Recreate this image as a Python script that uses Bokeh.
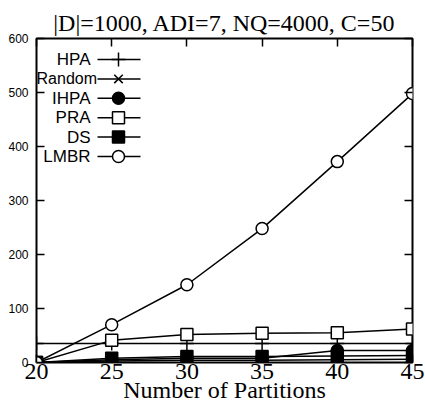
from bokeh.plotting import figure
from bokeh.models import Range1d, LinearAxis, FixedTicker, Label
from bokeh.embed import file_html
from bokeh.resources import INLINE

# ---- data ----
partitions = [20, 25, 30, 35, 40, 45]
hpa = [35, 35, 35, 35, 35, 35]
random_ = [0, 3, 4, 4, 5, 6]
ihpa = [0, 5, 8, 8, 22, 22]
pra = [0, 41, 52, 54, 55, 62]
ds = [0, 8, 11, 11, 12, 13]
lmbr = [0, 70, 144, 248, 372, 498]
series_names = ["HPA", "Random", "IHPA", "PRA", "DS", "LMBR"]
x_ticks = [20, 25, 30, 35, 40, 45]
y_ticks = [0, 100, 200, 300, 400, 500, 600]
title_text = "|D|=1000, ADI=7, NQ=4000, C=50"
x_label = "Number of Partitions"

SERIF = "Liberation Serif"
SANS = "Liberation Sans"
C = "black"

p = figure(width=425, height=407, output_backend="svg", toolbar_location=None,
           x_range=Range1d(20, 45), y_range=Range1d(0, 600),
           min_border_left=36, min_border_right=13, min_border_top=38, min_border_bottom=45)
p.background_fill_color = "white"
p.border_fill_color = "white"
p.grid.visible = False
p.outline_line_color = C
p.outline_line_width = 2

p.title.text = title_text
p.title.align = "center"
p.title.text_font = SERIF
p.title.text_font_size = "24px"
p.title.text_font_style = "normal"
p.title.text_color = C
p.title.offset = 0
p.title.standoff = 5

xa = p.xaxis[0]
xa.ticker = FixedTicker(ticks=x_ticks)
xa.major_tick_in = 8
xa.major_tick_out = 0
xa.minor_tick_in = 0
xa.minor_tick_out = 0
xa.axis_line_color = None
xa.major_tick_line_width = 1.5
xa.major_label_text_font = SERIF
xa.major_label_text_font_size = "24px"
xa.major_label_text_color = C
xa.major_label_standoff = 1
xa.axis_label = x_label
xa.axis_label_text_font = SERIF
xa.axis_label_text_font_size = "24px"
xa.axis_label_text_font_style = "normal"
xa.axis_label_text_color = C
xa.axis_label_standoff = -5

ya = p.yaxis[0]
ya.ticker = FixedTicker(ticks=y_ticks)
ya.major_tick_in = 8
ya.major_tick_out = 0
ya.minor_tick_in = 0
ya.minor_tick_out = 0
ya.axis_line_color = None
ya.major_tick_line_width = 1.5
ya.major_label_text_font = SANS
ya.major_label_text_font_size = "12px"
ya.major_label_text_color = C
ya.major_label_standoff = 8

for loc in ("above", "right"):
    ticks = x_ticks if loc == "above" else y_ticks
    ax = LinearAxis(ticker=FixedTicker(ticks=ticks),
                    major_tick_in=8, major_tick_out=0, minor_tick_in=0, minor_tick_out=0,
                    axis_line_color=None, major_tick_line_width=1.5,
                    major_label_overrides={t: "" for t in ticks},
                    major_label_text_font_size="1px", major_label_standoff=0)
    p.add_layout(ax, loc)

LW = 1.5
styles = [
    (hpa, "cross", C, 14),
    (random_, "x", C, 12),
    (ihpa, "circle", C, 12),
    (pra, "square", "white", 12),
    (ds, "square", C, 12),
    (lmbr, "circle", "white", 12),
]
for ys, marker, fill, size in styles:
    p.line(partitions, ys, line_color=C, line_width=LW)
for ys, marker, fill, size in styles:
    p.scatter(partitions, ys, marker=marker, size=size, line_color=C,
              fill_color=fill, line_width=LW)

# ---- legend (label left, sample right), placed via frame pixel offsets ----
def xd(px):
    return 20 + (px - 36) * 25 / 376

def yd(py):
    return (362 - py) * 600 / 324

ROW = 19.4
row_y = [59 + ROW * i for i in range(len(series_names))]
for name, (ys, marker, fill, size), ry in zip(series_names, styles, row_y):
    long_label = len(name) > 4
    p.add_layout(Label(x=xd(96.5 if long_label else 90), y=yd(ry), text=name,
                       text_font=SANS, text_font_size="16px" if long_label else "17px",
                       text_align="right", text_baseline="middle", text_color=C))
    p.line([xd(97), xd(140)], [yd(ry), yd(ry)], line_color=C, line_width=LW)
    p.scatter([xd(118)], [yd(ry)], marker=marker, size=size, line_color=C,
              fill_color=fill, line_width=LW)

open("out.html", "w").write(file_html(p, INLINE))
